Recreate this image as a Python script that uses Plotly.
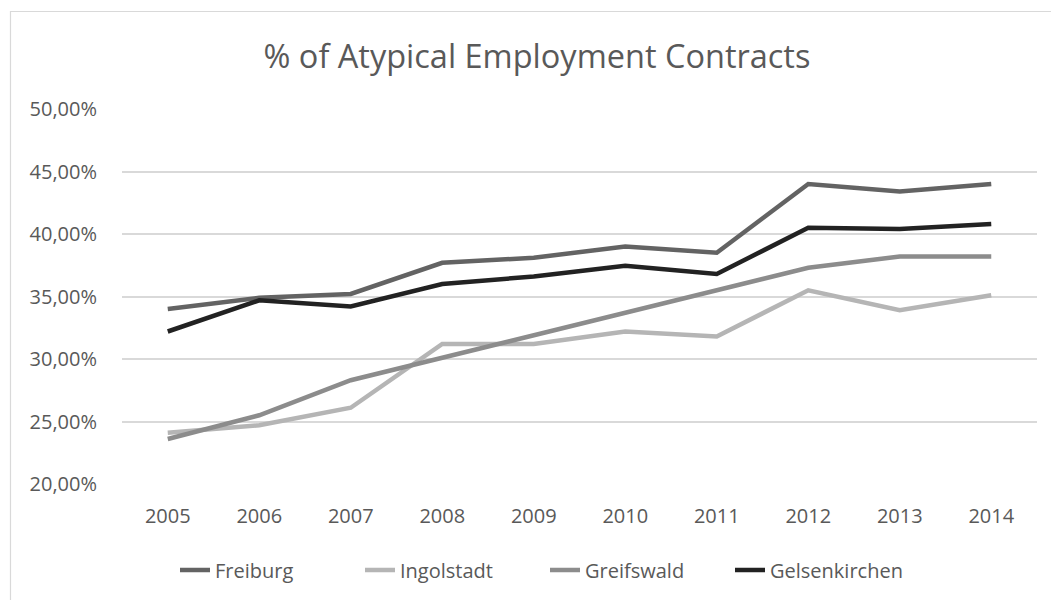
import plotly.graph_objects as go

# Share of atypical employment contracts (%), 2005-2014
years = ["2005", "2006", "2007", "2008", "2009", "2010", "2011", "2012", "2013", "2014"]
freiburg = [34.0, 34.9, 35.2, 37.7, 38.1, 39.0, 38.5, 44.0, 43.4, 44.0]
ingolstadt = [24.1, 24.7, 26.1, 31.2, 31.2, 32.2, 31.8, 35.5, 33.9, 35.1]
greifswald = [23.6, 25.5, 28.3, 30.1, 31.9, 33.7, 35.5, 37.3, 38.2, 38.2]
gelsenkirchen = [32.2, 34.7, 34.2, 36.0, 36.6, 37.45, 36.8, 40.5, 40.4, 40.8]

y_ticks = [20, 25, 30, 35, 40, 45, 50]
y_tick_text = ["20,00%", "25,00%", "30,00%", "35,00%", "40,00%", "45,00%", "50,00%"]

series = [
    ("Freiburg", freiburg, "#636363"),
    ("Ingolstadt", ingolstadt, "#b5b5b5"),
    ("Greifswald", greifswald, "#8c8c8c"),
    ("Gelsenkirchen", gelsenkirchen, "#222222"),
]

FONT = "Open Sans"
TEXT = "#595959"

fig = go.Figure()
for name, vals, color in series:
    fig.add_trace(go.Scatter(
        x=years, y=vals, name=name, mode="lines",
        line=dict(color=color, width=4.5),
        hoverinfo="x+y+name",
    ))

W, H = 1051, 600
L, R, T, B = 122, 14, 109, 116
pw, ph = W - L - R, H - T - B

def px_x(p):
    return (p - L) / pw

def px_y(p):
    return (H - B - p) / ph

fig.update_layout(
    width=W, height=H,
    margin=dict(l=L, r=R, t=T, b=B, autoexpand=False),
    paper_bgcolor="white", plot_bgcolor="white",
    font=dict(family=FONT, size=20, color=TEXT),
    title=dict(text="% of Atypical Employment Contracts",
               x=537 / W, xanchor="center",
               y=1 - 57 / H, yanchor="middle",
               font=dict(family=FONT, size=32.5, color=TEXT)),
    showlegend=True,
    legend=dict(orientation="h", x=px_x(545), xanchor="center",
                y=px_y(570), yanchor="middle",
                entrywidth=140, entrywidthmode="pixels",
                font=dict(family=FONT, size=20, color=TEXT),
                bgcolor="rgba(0,0,0,0)"),
    xaxis=dict(type="category", range=[-0.5, 9.5], showgrid=False,
               zeroline=False, showline=False, ticks="", ticklabelstandoff=18,
               tickfont=dict(size=20, color=TEXT)),
    yaxis=dict(range=[20, 50], tickvals=y_ticks, ticktext=y_tick_text,
               showgrid=True, gridcolor="#d9d9d9", gridwidth=1.5,
               zeroline=False, showline=False, ticks="", ticklabelstandoff=24,
               tickfont=dict(size=20, color=TEXT)),
    shapes=[dict(type="rect", xref="paper", yref="paper",
                 x0=px_x(10.5), x1=px_x(1060), y0=px_y(610), y1=px_y(11.5),
                 line=dict(color="#d9d9d9", width=1.2), layer="below")],
)

fig.write_html("out.html")
